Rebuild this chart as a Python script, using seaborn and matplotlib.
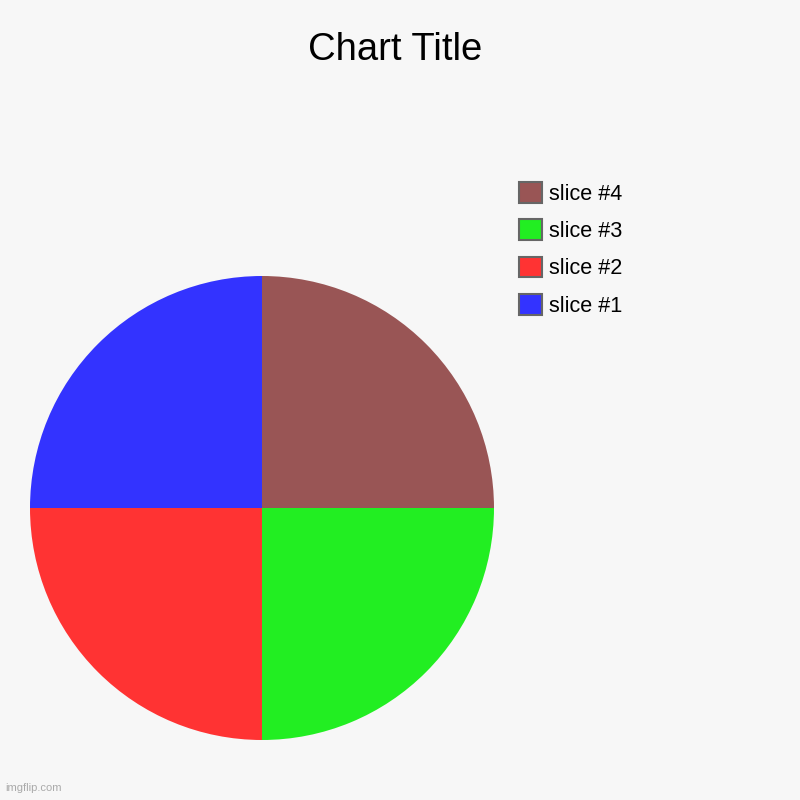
import matplotlib
matplotlib.use("Agg")
import matplotlib.pyplot as plt
import matplotlib.patches as mpatches
import seaborn as sns

# ------------------ DATA ------------------
labels = ["slice #1", "slice #2", "slice #3", "slice #4"]
values = [1, 1, 1, 1]
colors = ["#3333FF", "#FF3333", "#22EE22", "#995555"]

# ------------------ STYLE ------------------
sns.set_style("white")
plt.rcParams["font.family"] = ["Liberation Sans", "DejaVu Sans"]
plt.rcParams["text.color"] = "black"
BG = "#F7F7F7"
palette = sns.color_palette(colors)

fig = plt.figure(figsize=(8, 8), dpi=100, facecolor=BG)
ax = fig.add_axes([0.0375, 0.075, 0.58, 0.58])
ax.set_facecolor(BG)
ax.pie(values, colors=palette, startangle=90, counterclock=True,
       wedgeprops={"linewidth": 0})
ax.set_xlim(-1, 1)
ax.set_ylim(-1, 1)
ax.set_aspect("equal")

fig.text(0.494, 0.937, "Chart Title", ha="center", va="center",
         fontsize=27.5, color="black")

handles = [mpatches.Patch(facecolor=c, edgecolor="#666666", linewidth=1.5, label=l)
           for c, l in zip(palette, labels)]
fig.legend(handles=handles[::-1], loc="upper left", bbox_to_anchor=(0.6485, 0.7725),
           frameon=False, fontsize=15.6, handlelength=1.08, handleheight=1.08,
           handletextpad=0.3, labelspacing=0.68, borderaxespad=0, borderpad=0)

fig.text(0.006, 0.011, "imgflip.com", fontsize=8, color="#AAAAAA")

fig.savefig("out.png", facecolor=BG)
